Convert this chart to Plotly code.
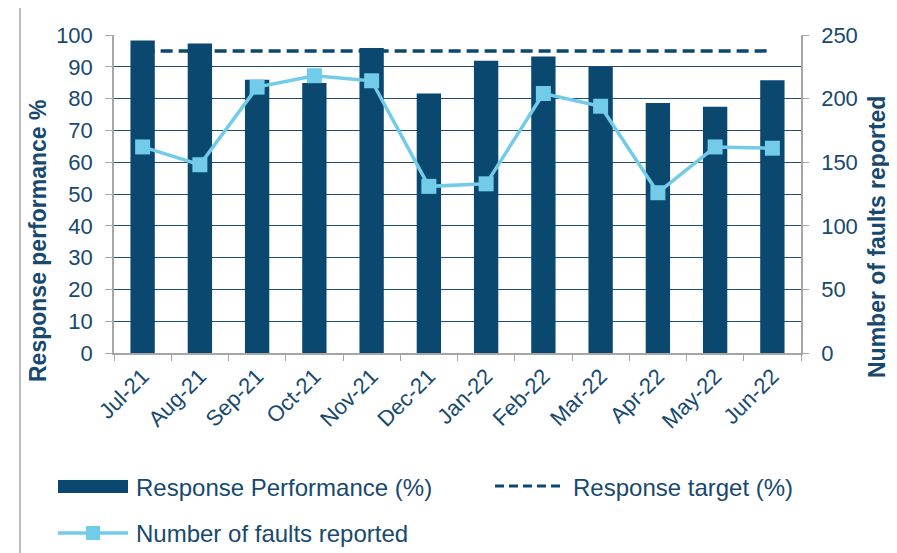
import plotly.graph_objects as go

months = ["Jul-21", "Aug-21", "Sep-21", "Oct-21", "Nov-21", "Dec-21",
          "Jan-22", "Feb-22", "Mar-22", "Apr-22", "May-22", "Jun-22"]
performance = [98.3, 97.3, 85.9, 84.9, 95.9, 81.6, 91.9, 93.2, 89.9, 78.6, 77.4, 85.8]
target = [95, 95, 95, 95, 95, 95, 95, 95, 95, 95, 95, 95]
faults = [162, 148, 209, 218, 214, 131, 133, 204, 194, 126, 162, 161]

BAR = "#0a4870"
LIGHT = "#72cbe8"
TXT = "#17496f"
GRID = "#1f4e79"
AXIS = "#a6a6a6"
FONT = "Liberation Sans, Arial, sans-serif"

OFF = 8  # default page body margin
W, H = 897 - OFF, 553 - OFF
PLOT_L, PLOT_R, PLOT_T, PLOT_B = 114, 801, 35, 353  # screen pixels
L, T = PLOT_L - OFF, PLOT_T - OFF
R = W - (PLOT_R - OFF)
B = H - (PLOT_B - OFF)
PW, PH = PLOT_R - PLOT_L, PLOT_B - PLOT_T


def px(x):
    return (x - PLOT_L) / PW


def py(y):
    return (PLOT_B - y) / PH


fig = go.Figure()
fig.add_trace(go.Bar(x=months, y=performance, name="Response Performance (%)",
                     marker=dict(color=BAR, line=dict(width=0)), showlegend=False))
fig.add_trace(go.Scatter(x=months, y=target, name="Response target (%)", mode="lines",
                         line=dict(color=BAR, width=3.5, dash="12px,6px"), showlegend=False))
fig.add_trace(go.Scatter(x=months, y=faults, name="Number of faults reported", yaxis="y2",
                         mode="lines+markers",
                         line=dict(color=LIGHT, width=3.5),
                         marker=dict(symbol="square", size=15, color=LIGHT),
                         showlegend=False))

shapes = [
    dict(type="rect", xref="paper", yref="paper", x0=px(20), x1=px(894), y0=py(600), y1=py(4),
         line=dict(color=AXIS, width=1.5), fillcolor="rgba(0,0,0,0)", layer="below"),
    dict(type="rect", xref="paper", yref="paper", x0=px(58), x1=px(128), y0=py(493), y1=py(480),
         line=dict(width=0), fillcolor=BAR),
    dict(type="line", xref="paper", yref="paper", x0=px(495), x1=px(565), y0=py(486), y1=py(486),
         line=dict(color=BAR, width=3, dash="9px,5px")),
    dict(type="line", xref="paper", yref="paper", x0=px(58), x1=px(128), y0=py(533), y1=py(533),
         line=dict(color=LIGHT, width=3.5)),
    dict(type="rect", xref="paper", yref="paper", x0=px(86), x1=px(100), y0=py(540), y1=py(526),
         line=dict(width=0), fillcolor=LIGHT),
]

LEG_FONT = dict(size=24, color=TXT, family=FONT)
TITLE_FONT = dict(size=23, color=TXT, family=FONT)
annotations = [
    dict(text="Response Performance (%)", x=px(134), y=py(487), xref="paper", yref="paper",
         xanchor="left", yanchor="middle", showarrow=False, font=LEG_FONT),
    dict(text="Response target (%)", x=px(571), y=py(487), xref="paper", yref="paper",
         xanchor="left", yanchor="middle", showarrow=False, font=LEG_FONT),
    dict(text="Number of faults reported", x=px(134), y=py(533), xref="paper", yref="paper",
         xanchor="left", yanchor="middle", showarrow=False, font=LEG_FONT),
    dict(text="<b>Response performance %</b>", x=px(38), y=py(241), xref="paper", yref="paper",
         xanchor="center", yanchor="middle", textangle=-90, showarrow=False, font=TITLE_FONT),
    dict(text="<b>Number of faults reported</b>", x=px(877), y=py(237), xref="paper", yref="paper",
         xanchor="center", yanchor="middle", textangle=-90, showarrow=False, font=TITLE_FONT),
]

TICK_FONT = dict(size=22, color=TXT, family=FONT)
fig.update_layout(
    width=W, height=H,
    margin=dict(l=L, r=R, t=T, b=B, pad=0),
    paper_bgcolor="white", plot_bgcolor="white",
    font=dict(family=FONT, color=TXT, size=22),
    bargap=0.575,
    showlegend=False,
    shapes=shapes,
    annotations=annotations,
    xaxis=dict(type="category", tickangle=-45, tickson="boundaries", ticks="outside",
               ticklen=6, tickcolor=AXIS, showline=True, linecolor=AXIS, linewidth=1.5,
               showgrid=False, tickfont=TICK_FONT, range=[-0.5, 11.5]),
    yaxis=dict(range=[0, 100], dtick=10, showgrid=True, gridcolor=GRID, gridwidth=1,
               showline=True, linecolor=AXIS, linewidth=1.5, ticks="outside", ticklen=7,
               tickcolor=AXIS, zeroline=False, tickfont=TICK_FONT, ticklabelstandoff=8),
    yaxis2=dict(range=[0, 250], dtick=50, overlaying="y", side="right", showgrid=False,
                showline=True, linecolor=AXIS, linewidth=1.5, ticks="outside", ticklen=6,
                tickcolor=AXIS, zeroline=False, tickfont=TICK_FONT, ticklabelstandoff=8),
)

fig.write_html("out.html")
